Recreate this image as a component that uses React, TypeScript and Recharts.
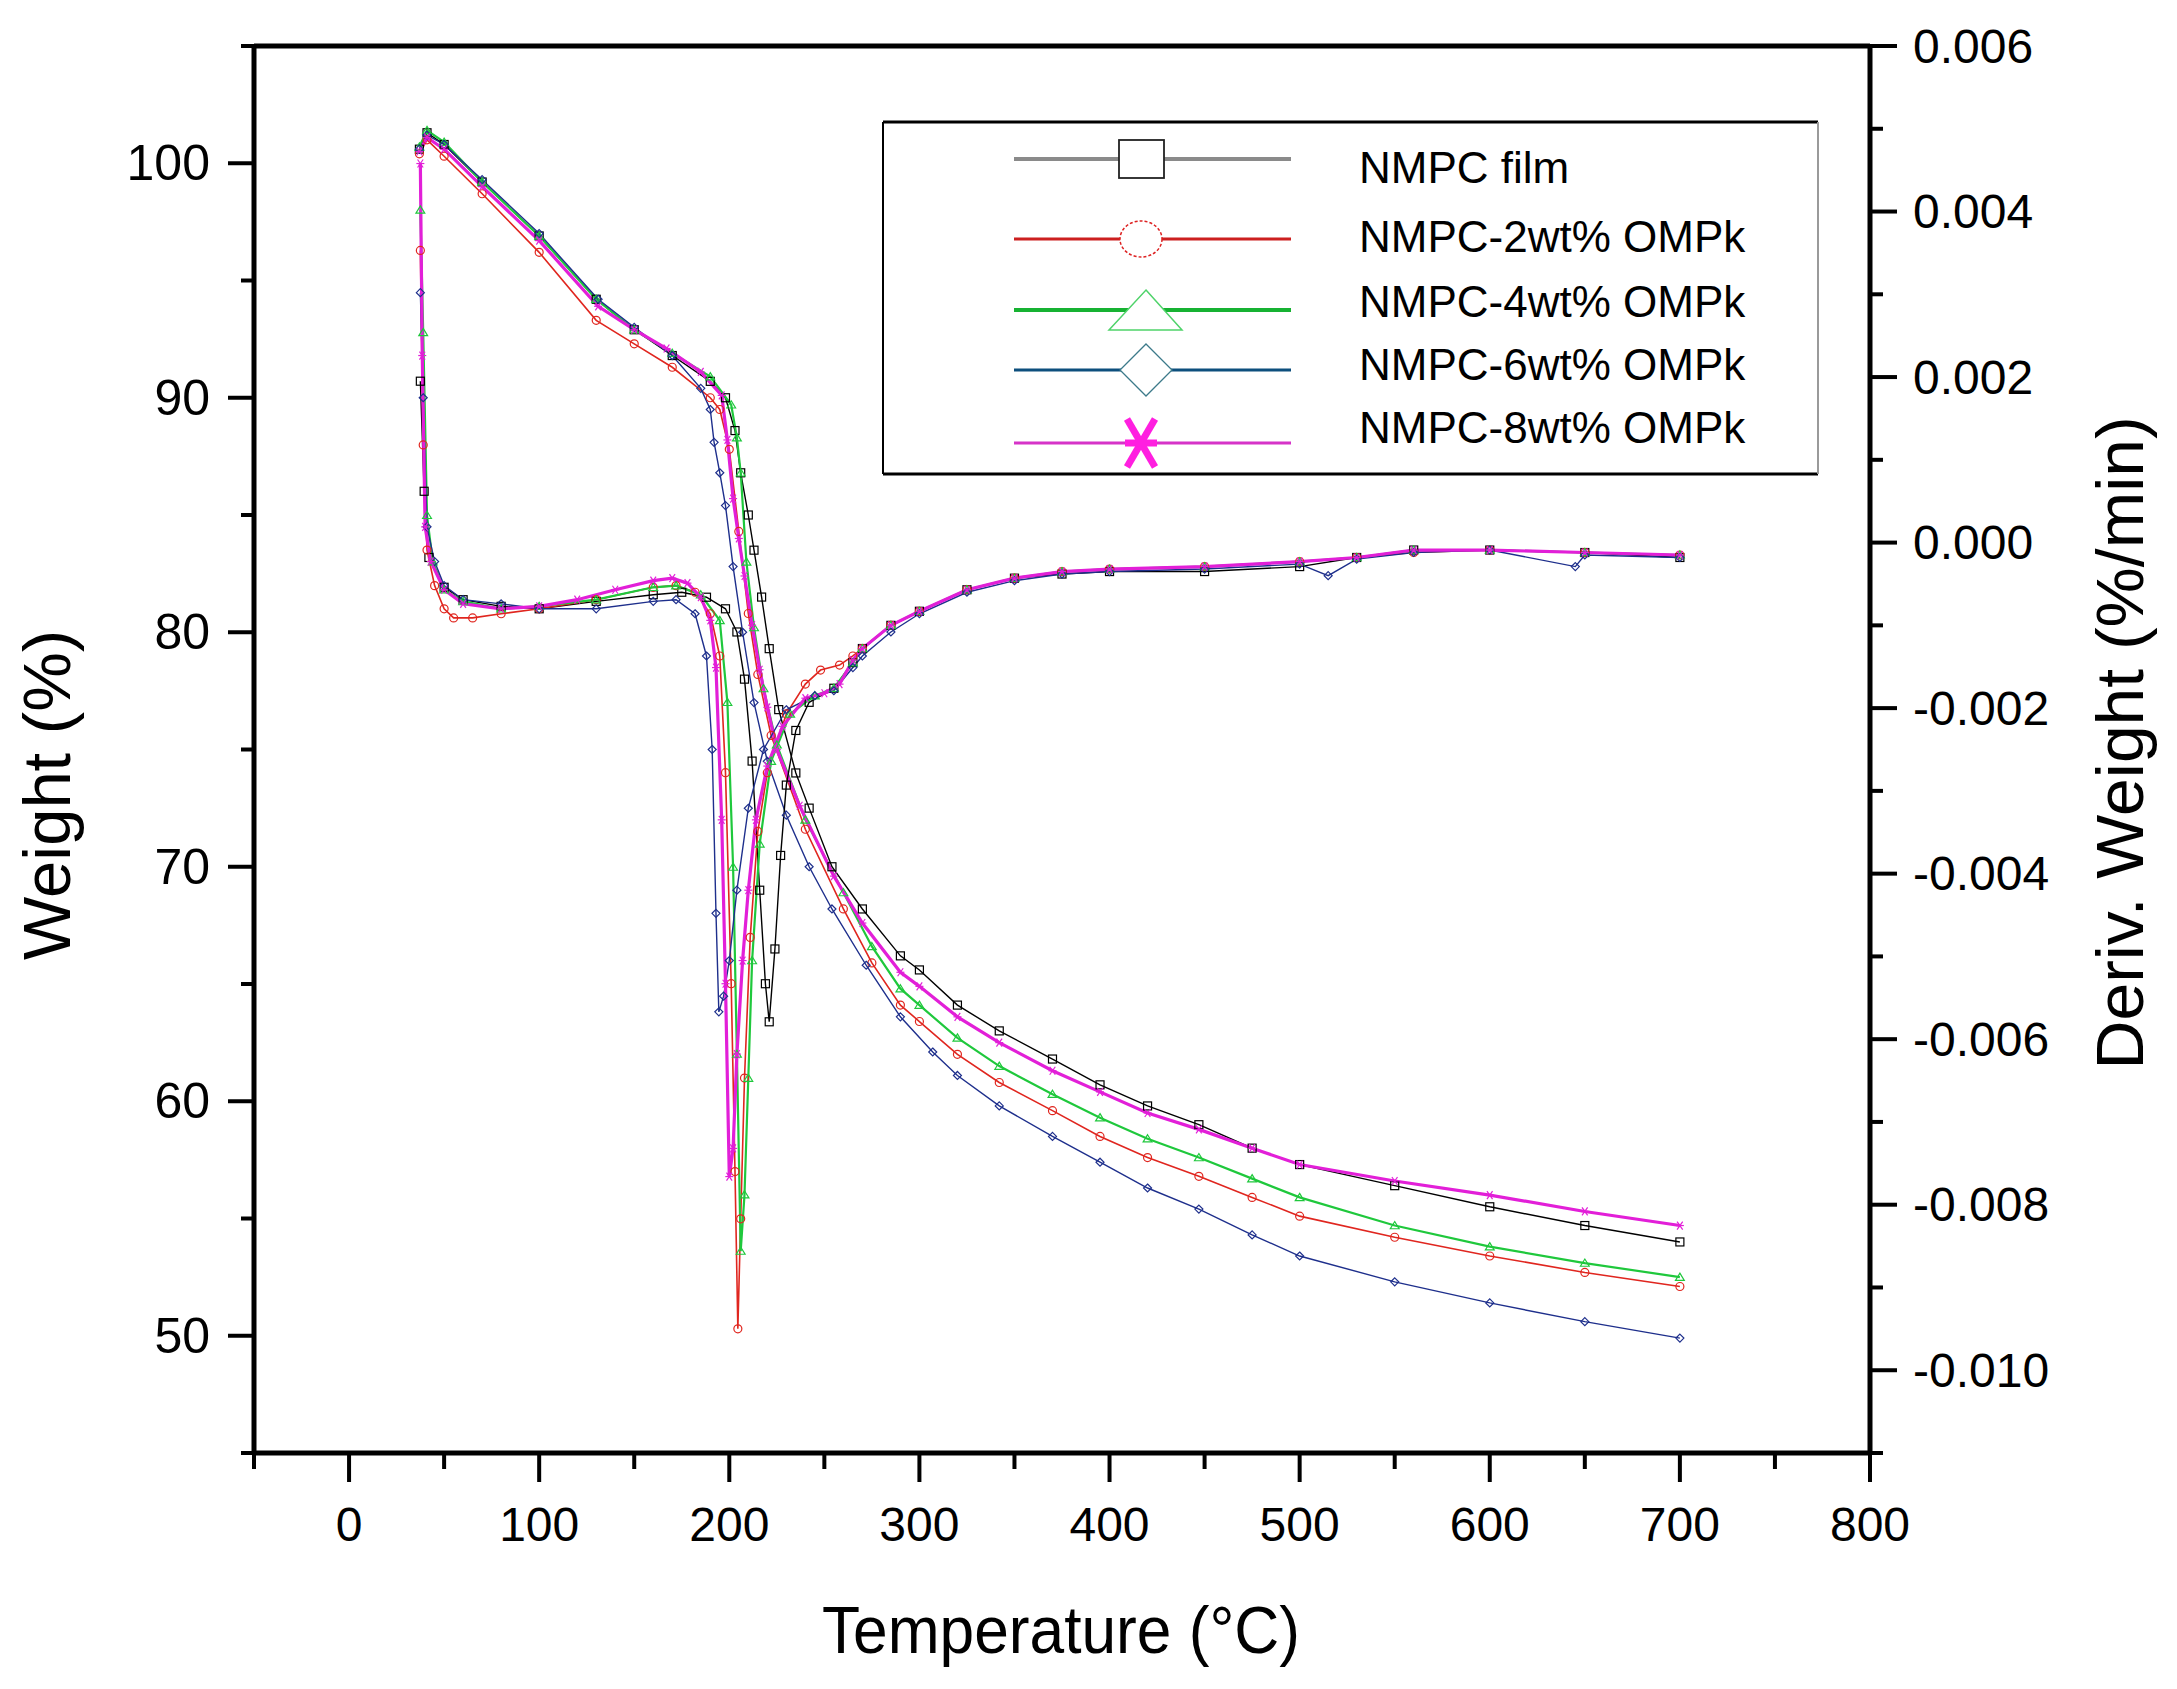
import React from 'react';
import { LineChart, Line, XAxis, YAxis } from 'recharts';

// ---------- Data (temperature in °C, weight in %, derivative in %/min) ----------
const FILM_TGA_T = [37, 41, 50, 70, 100, 130, 150, 170, 190, 198, 203, 206, 210, 213, 217, 221, 226, 235, 242, 254, 270, 290, 300, 320, 342, 370, 395, 420, 447, 475, 500, 550, 600, 650, 700];
const FILM_TGA_W = [100.6, 101.3, 100.8, 99.2, 96.9, 94.2, 92.9, 91.8, 90.7, 90.0, 88.6, 86.8, 85.0, 83.5, 81.5, 79.3, 76.7, 74.0, 72.5, 70.0, 68.2, 66.2, 65.6, 64.1, 63.0, 61.8, 60.7, 59.8, 59.0, 58.0, 57.3, 56.4, 55.5, 54.7, 54.0];
const FILM_DTG_T = [37.5, 39.5, 42, 50, 60, 80, 100, 130, 160, 175, 188, 198, 204, 208, 212, 216, 219, 221, 224, 227, 230, 235, 242, 255, 265, 270, 285, 300, 325, 350, 375, 400, 450, 500, 530, 560, 600, 650, 700];
const FILM_DTG_D = [0.00195, 0.00062, -0.00018, -0.00054, -0.00069, -0.00077, -0.0008, -0.00071, -0.00063, -0.0006, -0.00066, -0.0008, -0.00108, -0.00165, -0.00264, -0.0042, -0.00533, -0.00579, -0.00491, -0.00378, -0.00293, -0.00227, -0.00193, -0.00176, -0.00145, -0.00128, -0.001, -0.00083, -0.00057, -0.00043, -0.00038, -0.00035, -0.00035, -0.00029, -0.00018, -0.00009, -0.00009, -0.00012, -0.00018];

const P2_TGA_T = [37, 41, 50, 70, 100, 130, 150, 170, 190, 195, 200, 205, 210, 215, 222, 240, 260, 275, 290, 300, 320, 342, 370, 395, 420, 447, 475, 500, 550, 600, 650, 700];
const P2_TGA_W = [100.4, 101.0, 100.3, 98.7, 96.2, 93.3, 92.3, 91.3, 90.0, 89.5, 87.8, 84.3, 80.8, 78.2, 75.6, 71.6, 68.2, 65.9, 64.1, 63.4, 62.0, 60.8, 59.6, 58.5, 57.6, 56.8, 55.9, 55.1, 54.2, 53.4, 52.7, 52.1];
const P2_DTG_T = [37.5, 39, 41, 45, 50, 55, 65, 80, 100, 130, 160, 172, 182, 190, 195, 198, 201, 203, 204.5, 206, 208, 211, 215, 220, 230, 240, 248, 258, 265, 270, 285, 300, 325, 350, 375, 400, 450, 500, 530, 560, 600, 650, 700];
const P2_DTG_D = [0.00353, 0.00118, -0.00009, -0.00052, -0.0008, -0.00091, -0.00091, -0.00086, -0.0008, -0.00069, -0.00054, -0.00052, -0.0006, -0.00086, -0.00137, -0.00278, -0.00533, -0.0076, -0.0095, -0.00817, -0.00647, -0.00477, -0.00349, -0.00278, -0.00207, -0.00171, -0.00154, -0.00148, -0.00137, -0.00128, -0.001, -0.00083, -0.00057, -0.00043, -0.00035, -0.00032, -0.00029, -0.00023, -0.00018, -0.00012, -0.00009, -0.00012, -0.00015];

const P4_TGA_T = [37, 41, 50, 70, 100, 130, 150, 170, 190, 201, 204, 206, 209, 213, 218, 225, 240, 260, 275, 290, 300, 320, 342, 370, 395, 420, 447, 475, 500, 550, 600, 650, 700];
const P4_TGA_W = [100.7, 101.4, 100.9, 99.2, 96.9, 94.2, 92.9, 91.9, 90.9, 89.7, 88.3, 86.8, 83.0, 80.2, 77.6, 75.2, 72.0, 68.9, 66.6, 64.8, 64.1, 62.7, 61.5, 60.3, 59.3, 58.4, 57.6, 56.7, 55.9, 54.7, 53.8, 53.1, 52.5];
const P4_DTG_T = [37.5, 39, 41, 44, 50, 60, 80, 100, 130, 160, 172, 185, 195, 199, 202, 204, 206, 208, 210, 212, 216, 222, 232, 245, 255, 265, 270, 285, 300, 325, 350, 375, 400, 450, 500, 530, 560, 600, 650, 700];
const P4_DTG_D = [0.00402, 0.00254, 0.00033, -0.00023, -0.00057, -0.00071, -0.0008, -0.00077, -0.00069, -0.00054, -0.00052, -0.00063, -0.00094, -0.00193, -0.00392, -0.00618, -0.00856, -0.00788, -0.00647, -0.00505, -0.00364, -0.00264, -0.00207, -0.00185, -0.00176, -0.00145, -0.00128, -0.001, -0.00083, -0.00057, -0.00043, -0.00035, -0.00032, -0.00029, -0.00023, -0.00018, -0.00009, -0.00009, -0.00012, -0.00015];

const P6_TGA_T = [37, 41, 50, 70, 100, 131, 150, 170, 185, 190, 192, 195, 198, 202, 207, 213, 220, 230, 242, 254, 272, 290, 307, 320, 342, 370, 395, 420, 447, 475, 500, 550, 600, 650, 700];
const P6_TGA_W = [100.6, 101.2, 100.8, 99.3, 97.0, 94.2, 93.0, 91.8, 90.4, 89.5, 88.1, 86.8, 85.4, 82.8, 80.0, 77.0, 74.5, 72.2, 70.0, 68.2, 65.8, 63.6, 62.1, 61.1, 59.8, 58.5, 57.4, 56.3, 55.4, 54.3, 53.4, 52.3, 51.4, 50.6, 49.9];
const P6_DTG_T = [37.5, 39, 41, 45, 50, 60, 80, 100, 130, 160, 172, 182, 188, 191, 193, 194.5, 197, 200, 204, 210, 218, 230, 245, 255, 265, 270, 285, 300, 325, 350, 375, 400, 450, 500, 515, 530, 560, 600, 645, 650, 700];
const P6_DTG_D = [0.00302, 0.00175, 0.00019, -0.00023, -0.00052, -0.00069, -0.00074, -0.0008, -0.0008, -0.00071, -0.00069, -0.00086, -0.00137, -0.0025, -0.00448, -0.00567, -0.00548, -0.00505, -0.0042, -0.00321, -0.0025, -0.00202, -0.00185, -0.00179, -0.00151, -0.00137, -0.00108, -0.00086, -0.0006, -0.00046, -0.00038, -0.00035, -0.00032, -0.00026, -0.0004, -0.0002, -0.00012, -0.00009, -0.00029, -0.00015, -0.00018];

const P8_TGA_T = [37, 41, 50, 70, 100, 131, 150, 167, 185, 196, 199, 202, 205, 208, 212, 216, 220, 225, 237, 255, 270, 290, 300, 320, 342, 370, 395, 420, 447, 475, 500, 550, 600, 650, 700];
const P8_TGA_W = [100.5, 101.1, 100.6, 99.0, 96.7, 93.9, 92.9, 92.1, 91.1, 90.1, 88.2, 85.7, 84.0, 82.4, 80.3, 78.4, 76.8, 75.0, 72.6, 69.6, 67.6, 65.5, 64.9, 63.6, 62.5, 61.3, 60.4, 59.5, 58.8, 58.0, 57.3, 56.6, 56.0, 55.3, 54.7];
const P8_DTG_T = [37.5, 38.5, 40, 43, 50, 60, 80, 100, 120, 140, 160, 170, 178, 185, 190, 193, 196, 198, 200, 202, 204, 207, 210, 214, 220, 228, 240, 250, 258, 265, 270, 285, 300, 325, 350, 375, 400, 450, 500, 530, 560, 600, 650, 700];
const P8_DTG_D = [0.00458, 0.00226, 0.00019, -0.00023, -0.00057, -0.00074, -0.0008, -0.00077, -0.00069, -0.00057, -0.00046, -0.00043, -0.00049, -0.00066, -0.00094, -0.00151, -0.00335, -0.00533, -0.00766, -0.00732, -0.00618, -0.00505, -0.0042, -0.00335, -0.0027, -0.00222, -0.00188, -0.00182, -0.00171, -0.00142, -0.00128, -0.001, -0.00083, -0.00057, -0.00043, -0.00035, -0.00032, -0.00029, -0.00023, -0.00018, -0.00009, -0.00009, -0.00012, -0.00015];

const SERIES_NAMES = ['NMPC film', 'NMPC-2wt% OMPk', 'NMPC-4wt% OMPk', 'NMPC-6wt% OMPk', 'NMPC-8wt% OMPk'];

const X_TICKS = [-50, 0, 50, 100, 150, 200, 250, 300, 350, 400, 450, 500, 550, 600, 650, 700, 750, 800];
const LEFT_TICKS = [45, 50, 55, 60, 65, 70, 75, 80, 85, 90, 95, 100, 105];
const RIGHT_TICKS = [-0.011, -0.01, -0.009, -0.008, -0.007, -0.006, -0.005, -0.004, -0.003, -0.002, -0.001, 0, 0.001, 0.002, 0.003, 0.004, 0.005, 0.006];

// ---------- helpers ----------
const zip = (t: number[], v: number[]) => t.map((x, i) => ({ t: x, v: v[i] }));

const FONT = "'Liberation Sans', Arial, Helvetica, sans-serif";

type Shape = 'square' | 'circle' | 'triangle' | 'diamond' | 'star';

function MarkerShape({ shape, cx, cy, color, s, w }: { shape: Shape; cx: number; cy: number; color: string; s: number; w: number }) {
  switch (shape) {
    case 'square':
      return <rect x={cx - s} y={cy - s} width={2 * s} height={2 * s} fill="none" stroke={color} strokeWidth={w} />;
    case 'circle':
      return <circle cx={cx} cy={cy} r={s} fill="none" stroke={color} strokeWidth={w} />;
    case 'triangle':
      return <path d={`M${cx},${cy - s} L${cx + s * 1.1},${cy + s * 0.8} L${cx - s * 1.1},${cy + s * 0.8}Z`} fill="none" stroke={color} strokeWidth={w} />;
    case 'diamond':
      return <path d={`M${cx},${cy - s} L${cx + s},${cy} L${cx},${cy + s} L${cx - s},${cy}Z`} fill="none" stroke={color} strokeWidth={w} />;
    default:
      return (
        <g stroke={color} strokeWidth={w}>
          <line x1={cx - s * 0.7} y1={cy - s} x2={cx + s * 0.7} y2={cy + s} />
          <line x1={cx + s * 0.7} y1={cy - s} x2={cx - s * 0.7} y2={cy + s} />
          <line x1={cx - s} y1={cy} x2={cx + s} y2={cy} />
        </g>
      );
  }
}

const makeDot = (shape: Shape, color: string, s: number, w: number) => (p: any) => {
  if (p == null || p.cx == null || p.cy == null || isNaN(p.cx) || isNaN(p.cy)) return <g key={`e-${p?.index}`} />;
  return (
    <g key={`d-${p.index}`}>
      <MarkerShape shape={shape} cx={p.cx} cy={p.cy} color={color} s={s} w={w} />
    </g>
  );
};

// ---------- axis ticks ----------
const BottomTick = (p: any) => {
  const v = p.payload.value;
  const major = v % 100 === 0;
  return (
    <g>
      <line x1={p.x} y1={p.y} x2={p.x} y2={p.y + (major ? 29 : 16)} stroke="#000" strokeWidth={4} />
      {major && (
        <text x={p.x} y={p.y + 88} textAnchor="middle" fontSize={48} fontFamily={FONT} fill="#000">
          {v}
        </text>
      )}
    </g>
  );
};

const TopTick = (p: any) => {
  const v = p.payload.value;
  const major = v % 100 === 0;
  return <line x1={p.x} y1={p.y} x2={p.x} y2={p.y + (major ? 30 : 17)} stroke="#000" strokeWidth={4} />;
};

const LeftTick = (p: any) => {
  const v = p.payload.value;
  const major = Math.round(v) % 10 === 0;
  return (
    <g>
      <line x1={p.x} y1={p.y} x2={p.x - (major ? 26 : 13)} y2={p.y} stroke="#000" strokeWidth={4} />
      {major && (
        <text x={p.x - 44} y={p.y} textAnchor="end" dominantBaseline="central" fontSize={50} fontFamily={FONT} fill="#000">
          {v}
        </text>
      )}
    </g>
  );
};

const RightTick = (p: any) => {
  const v = p.payload.value;
  const major = Math.round(v * 1000) % 2 === 0;
  return (
    <g>
      <line x1={p.x} y1={p.y} x2={p.x + (major ? 27 : 13)} y2={p.y} stroke="#000" strokeWidth={4} />
      {major && (
        <text x={p.x + 43} y={p.y} textAnchor="start" dominantBaseline="central" fontSize={48} fontFamily={FONT} fill="#000">
          {(Math.abs(v) < 1e-9 ? 0 : v).toFixed(3)}
        </text>
      )}
    </g>
  );
};

// ---------- series definitions ----------
const COLORS = ['#000000', '#e0261f', '#1fc83c', '#1e2f8c', '#e21fd8'];
const SHAPES: Shape[] = ['square', 'circle', 'triangle', 'diamond', 'star'];
const WIDTHS = [1.4, 1.6, 2.2, 1.4, 3.2];

const TGA = [zip(FILM_TGA_T, FILM_TGA_W), zip(P2_TGA_T, P2_TGA_W), zip(P4_TGA_T, P4_TGA_W), zip(P6_TGA_T, P6_TGA_W), zip(P8_TGA_T, P8_TGA_W)];
const DTG = [zip(FILM_DTG_T, FILM_DTG_D), zip(P2_DTG_T, P2_DTG_D), zip(P4_DTG_T, P4_DTG_D), zip(P6_DTG_T, P6_DTG_D), zip(P8_DTG_T, P8_DTG_D)];

// ---------- legend ----------
const LEGEND_LINE_COLORS = ['#8a8a8a', '#cc1f1f', '#17b232', '#0d4f7d', '#d633c8'];
const LEGEND_ROW_Y = [159, 239, 310, 370, 443];
const LEGEND_TEXT_Y = [183, 252, 317, 380, 443];

function LegendBox() {
  const x1 = 1014;
  const x2 = 1291;
  const mx = 1141;
  return (
    <g>
      <line x1={883} y1={122} x2={1818} y2={122} stroke="#000" strokeWidth={3} />
      <line x1={883} y1={474} x2={1818} y2={474} stroke="#000" strokeWidth={3} />
      <line x1={883} y1={122} x2={883} y2={474} stroke="#000" strokeWidth={2} />
      <line x1={1818} y1={122} x2={1818} y2={474} stroke="#9a9a9a" strokeWidth={2} />
      {SERIES_NAMES.map((name, i) => {
        const y = LEGEND_ROW_Y[i];
        const c = LEGEND_LINE_COLORS[i];
        let marker: React.ReactNode = null;
        if (i === 0) marker = <rect x={mx - 22} y={y - 19} width={45} height={38} fill="#fff" stroke="#222" strokeWidth={1.8} />;
        if (i === 1) marker = <ellipse cx={mx} cy={y} rx={21} ry={18} fill="#fff" stroke="#d22" strokeWidth={1.5} strokeDasharray="3 2" />;
        if (i === 2) marker = <path d={`M${mx + 5},${y - 20} L${mx + 41},${y + 20} L${mx - 32},${y + 20}Z`} fill="#fff" stroke="#4fd36a" strokeWidth={1.5} />;
        if (i === 3) marker = <path d={`M${mx + 5},${y - 26} L${mx + 31},${y} L${mx + 5},${y + 26} L${mx - 21},${y}Z`} fill="#fff" stroke="#3c7a8a" strokeWidth={1.3} />;
        if (i === 4)
          marker = (
            <g stroke="#ff1fe0" strokeWidth={7}>
              <line x1={mx - 14} y1={y - 24} x2={mx + 14} y2={y + 24} />
              <line x1={mx + 14} y1={y - 24} x2={mx - 14} y2={y + 24} />
              <line x1={mx - 16} y1={y} x2={mx + 16} y2={y} />
            </g>
          );
        return (
          <g key={name}>
            <line x1={x1} y1={y} x2={x2} y2={y} stroke={c} strokeWidth={i === 2 || i === 0 ? 4 : 3} />
            {marker}
            <text x={1359} y={LEGEND_TEXT_Y[i]} fontSize={44} fontFamily={FONT} fill="#000">
              {name}
            </text>
          </g>
        );
      })}
    </g>
  );
}

export default function App() {
  return (
    <div style={{ position: 'absolute', left: 0, top: 0, width: 2177, height: 1689, background: '#fff' }}>
      <LineChart width={2177} height={1689} margin={{ top: 0, right: 0, bottom: 0, left: 0 }}>
        <XAxis
          xAxisId="b"
          dataKey="t"
          type="number"
          domain={[-50, 800]}
          ticks={X_TICKS}
          interval={0}
          allowDataOverflow
          height={236}
          tickSize={0}
          tickMargin={0}
          tickLine={false}
          axisLine={{ stroke: '#000', strokeWidth: 5 }}
          tick={BottomTick}
        />
        <XAxis
          xAxisId="t"
          orientation="top"
          type="number"
          domain={[-50, 800]}
          ticks={X_TICKS}
          interval={0}
          allowDataOverflow
          height={46}
          tickSize={0}
          tickMargin={0}
          tickLine={false}
          axisLine={{ stroke: '#000', strokeWidth: 5 }}
          tick={TopTick}
        />
        <YAxis
          yAxisId="L"
          type="number"
          domain={[45, 105]}
          ticks={LEFT_TICKS}
          interval={0}
          allowDataOverflow
          width={254}
          tickSize={0}
          tickMargin={0}
          tickLine={false}
          axisLine={{ stroke: '#000', strokeWidth: 5 }}
          tick={LeftTick}
        />
        <YAxis
          yAxisId="R"
          orientation="right"
          type="number"
          domain={[-0.011, 0.006]}
          ticks={RIGHT_TICKS}
          interval={0}
          allowDataOverflow
          width={307}
          tickSize={0}
          tickMargin={0}
          tickLine={false}
          axisLine={{ stroke: '#000', strokeWidth: 5 }}
          tick={RightTick}
        />
        {TGA.map((d, i) => (
          <Line
            key={`tga-${i}`}
            data={d}
            dataKey="v"
            xAxisId="b"
            yAxisId="L"
            type="linear"
            stroke={COLORS[i]}
            strokeWidth={WIDTHS[i]}
            dot={makeDot(SHAPES[i], COLORS[i], 4, 1.2)}
            activeDot={false}
            isAnimationActive={false}
          />
        ))}
        {DTG.map((d, i) => (
          <Line
            key={`dtg-${i}`}
            data={d}
            dataKey="v"
            xAxisId="b"
            yAxisId="R"
            type="linear"
            stroke={COLORS[i]}
            strokeWidth={WIDTHS[i]}
            dot={makeDot(SHAPES[i], COLORS[i], 4, 1.2)}
            activeDot={false}
            isAnimationActive={false}
          />
        ))}
      </LineChart>
      <svg width={2177} height={1689} style={{ position: 'absolute', left: 0, top: 0, pointerEvents: 'none' }}>
        <LegendBox />
        <text x={1061} y={1653} textAnchor="middle" fontSize={66} fontFamily={FONT} fill="#000" textLength={478} lengthAdjust="spacingAndGlyphs">
          Temperature (°C)
        </text>
        <text transform="translate(70,795) rotate(-90)" textAnchor="middle" fontSize={66} fontFamily={FONT} fill="#000" textLength={330} lengthAdjust="spacingAndGlyphs">
          Weight (%)
        </text>
        <text transform="translate(2143,743) rotate(-90)" textAnchor="middle" fontSize={66} fontFamily={FONT} fill="#000" textLength={653} lengthAdjust="spacingAndGlyphs">
          Deriv. Weight (%/min)
        </text>
      </svg>
    </div>
  );
}
